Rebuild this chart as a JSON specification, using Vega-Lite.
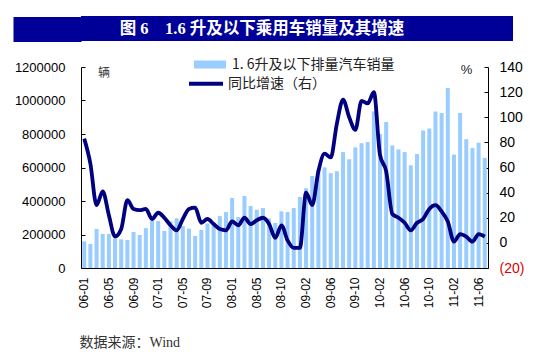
{
  "$schema": "https://vega.github.io/schema/vega-lite/v6.json",
  "padding": {"left": 0, "top": 16, "right": 5, "bottom": 5},
  "background": "white",
  "spacing": 15,
  "config": {"view": {"stroke": null}, "font": "Liberation Sans"},
  "resolve": {
    "scale": {"fill": "independent", "stroke": "independent"},
    "legend": {"fill": "independent", "stroke": "independent"}
  },
  "datasets": {
    "head": [{"t": "图 6　1.6 升及以下乘用车销量及其增速"}],
    "sales": [
      {"m": "06-01", "v": 159000, "g": 83},
      {"m": "06-02", "v": 143000, "g": 63},
      {"m": "06-03", "v": 233000, "g": 30},
      {"m": "06-04", "v": 203000, "g": 41},
      {"m": "06-05", "v": 203000, "g": 22},
      {"m": "06-06", "v": 175000, "g": 5},
      {"m": "06-07", "v": 171000, "g": 11},
      {"m": "06-08", "v": 167000, "g": 34},
      {"m": "06-09", "v": 215000, "g": 27},
      {"m": "06-10", "v": 197000, "g": 26},
      {"m": "06-11", "v": 238000, "g": 27},
      {"m": "06-12", "v": 281000, "g": 19},
      {"m": "07-01", "v": 281000, "g": 24},
      {"m": "07-02", "v": 221000, "g": 20},
      {"m": "07-03", "v": 278000, "g": 14},
      {"m": "07-04", "v": 297000, "g": 10},
      {"m": "07-05", "v": 250000, "g": 19},
      {"m": "07-06", "v": 235000, "g": 27},
      {"m": "07-07", "v": 191000, "g": 28},
      {"m": "07-08", "v": 227000, "g": 16},
      {"m": "07-09", "v": 265000, "g": 19},
      {"m": "07-10", "v": 260000, "g": 15},
      {"m": "07-11", "v": 310000, "g": 11},
      {"m": "07-12", "v": 334000, "g": 10},
      {"m": "08-01", "v": 418000, "g": 17},
      {"m": "08-02", "v": 304000, "g": 14},
      {"m": "08-03", "v": 430000, "g": 20},
      {"m": "08-04", "v": 370000, "g": 15},
      {"m": "08-05", "v": 348000, "g": 18},
      {"m": "08-06", "v": 358000, "g": 20},
      {"m": "08-07", "v": 296000, "g": 15},
      {"m": "08-08", "v": 269000, "g": 4},
      {"m": "08-10", "v": 338000, "g": 14},
      {"m": "08-11", "v": 334000, "g": 2},
      {"m": "08-12", "v": 358000, "g": -4},
      {"m": "09-01", "v": 424000, "g": -4},
      {"m": "09-02", "v": 476000, "g": 40},
      {"m": "09-03", "v": 549000, "g": 30},
      {"m": "09-04", "v": 589000, "g": 57},
      {"m": "09-05", "v": 601000, "g": 71},
      {"m": "09-06", "v": 566000, "g": 68},
      {"m": "09-07", "v": 578000, "g": 95},
      {"m": "09-08", "v": 692000, "g": 114},
      {"m": "09-09", "v": 649000, "g": 100},
      {"m": "09-10", "v": 720000, "g": 90},
      {"m": "09-11", "v": 745000, "g": 113},
      {"m": "09-12", "v": 752000, "g": 111},
      {"m": "10-01", "v": 935000, "g": 120},
      {"m": "10-02", "v": 800000, "g": 70},
      {"m": "10-03", "v": 871000, "g": 57},
      {"m": "10-04", "v": 732000, "g": 23},
      {"m": "10-05", "v": 708000, "g": 20},
      {"m": "10-06", "v": 692000, "g": 16},
      {"m": "10-07", "v": 613000, "g": 10},
      {"m": "10-08", "v": 680000, "g": 16},
      {"m": "10-09", "v": 821000, "g": 19},
      {"m": "10-10", "v": 833000, "g": 27},
      {"m": "10-11", "v": 935000, "g": 30},
      {"m": "10-12", "v": 925000, "g": 25},
      {"m": "11-01", "v": 1074000, "g": 17},
      {"m": "11-02", "v": 677000, "g": 1},
      {"m": "11-03", "v": 925000, "g": 7},
      {"m": "11-04", "v": 768000, "g": 5},
      {"m": "11-05", "v": 716000, "g": 1},
      {"m": "11-06", "v": 748000, "g": 7},
      {"m": "11-07", "v": 657000, "g": 5}
    ]
  },
  "vconcat": [
    {
      "width": 432,
      "height": 25,
      "view": {"fill": "#000099", "stroke": null},
      "data": {"name": "head"},
      "mark": {"type": "text", "color": "white", "font": "Liberation Serif, Noto Sans CJK SC", "fontWeight": "bold", "fontSize": 16.5, "baseline": "middle", "align": "center", "dx": -35},
      "encoding": {
        "text": {"field": "t", "type": "nominal"},
        "y": {
          "datum": 0.5,
          "type": "quantitative",
          "scale": {"domain": [0, 1], "nice": false, "zero": false},
          "axis": {"values": [0.5], "tickSize": 68, "tickWidth": 25, "tickColor": "#000099", "tickCap": "butt", "labels": false, "domain": false, "grid": false, "title": null}
        }
      }
    },
    {
      "width": 407,
      "height": 201,
      "data": {"name": "sales"},
      "encoding": {
        "x": {
          "field": "m",
          "type": "ordinal",
          "sort": null,
          "scale": {"paddingInner": 0.35, "paddingOuter": 0.2},
          "axis": {
            "values": ["06-01", "06-05", "06-09", "07-01", "07-05", "07-09", "08-01", "08-05", "08-10", "09-02", "09-06", "09-10", "10-02", "10-06", "10-10", "11-02", "11-06"],
            "labelAngle": -90,
            "ticks": false,
            "labelPadding": 9,
            "labelFontSize": 12,
            "labelColor": "#000",
            "domainColor": "#000",
            "title": "数据来源：Wind",
            "titleX": -2,
            "titleY": 74,
            "titleAlign": "left",
            "titleBaseline": "middle",
            "titleFont": "Liberation Serif, Noto Sans CJK SC",
            "titleFontSize": 14,
            "titleFontWeight": "normal",
            "titleColor": "#333"
          }
        }
      },
      "layer": [
        {
          "mark": {"type": "bar"},
          "encoding": {
            "y": {
              "field": "v",
              "type": "quantitative",
              "scale": {"domain": [0, 1200000], "nice": false},
              "axis": {
                "orient": "left",
                "values": [0, 200000, 400000, 600000, 800000, 1000000, 1200000],
                "format": "d",
                "tickSize": -4,
                "labelPadding": 20,
                "labelFontSize": 13,
                "labelColor": "#000",
                "domainColor": "#000",
                "tickColor": "#000",
                "grid": false,
                "title": "辆",
                "titleAngle": 0,
                "titleX": 22.5,
                "titleY": 5,
                "titleAlign": "center",
                "titleBaseline": "middle",
                "titleFont": "Noto Sans CJK SC",
                "titleFontSize": 12,
                "titleFontWeight": "normal",
                "titleColor": "#333"
              }
            },
            "fill": {
              "datum": "1. 6升及以下排量汽车销量",
              "type": "nominal",
              "scale": {"range": ["#99CCFF"]},
              "legend": {
                "orient": "none",
                "legendX": 122,
                "legendY": -9.5,
                "title": null,
                "padding": 0,
                "symbolType": "M-4,-1H4V1H-4Z",
                "symbolSize": 64,
                "symbolStrokeWidth": 0,
                "labelFont": "Noto Sans CJK SC",
                "labelFontSize": 14,
                "labelColor": "#222",
                "labelOffset": 15,
                "labelLimit": 0
              }
            }
          }
        },
        {
          "mark": {"type": "line", "interpolate": "monotone", "strokeWidth": 3.8},
          "encoding": {
            "y": {
              "field": "g",
              "type": "quantitative",
              "scale": {"domain": [-20, 140], "nice": false, "zero": false},
              "axis": {
                "orient": "right",
                "values": [-20, 0, 20, 40, 60, 80, 100, 120, 140],
                "labelExpr": "datum.value < 0 ? '(' + (-datum.value) + ')' : datum.label",
                "labelColor": {"condition": {"test": "datum.value < 0", "value": "#E00000"}, "value": "#000"},
                "tickSize": -4,
                "labelPadding": 15,
                "labelFontSize": 14,
                "domainColor": "#000",
                "tickColor": "#000",
                "grid": false,
                "title": "%",
                "titleAngle": 0,
                "titleX": -22,
                "titleY": 2.5,
                "titleAlign": "center",
                "titleBaseline": "middle",
                "titleFontSize": 13,
                "titleFontWeight": "normal",
                "titleColor": "#222"
              }
            },
            "stroke": {
              "datum": "同比增速（右）",
              "type": "nominal",
              "scale": {"range": ["#000080"]},
              "legend": {
                "orient": "none",
                "legendX": 106,
                "legendY": -2.3,
                "title": null,
                "padding": 0,
                "symbolType": "stroke",
                "symbolSize": 1156,
                "symbolStrokeWidth": 4,
                "labelFont": "Noto Sans CJK SC",
                "labelFontSize": 14,
                "labelColor": "#222",
                "labelOffset": 3,
                "labelLimit": 0
              }
            }
          }
        }
      ],
      "resolve": {"scale": {"y": "independent"}}
    }
  ]
}
